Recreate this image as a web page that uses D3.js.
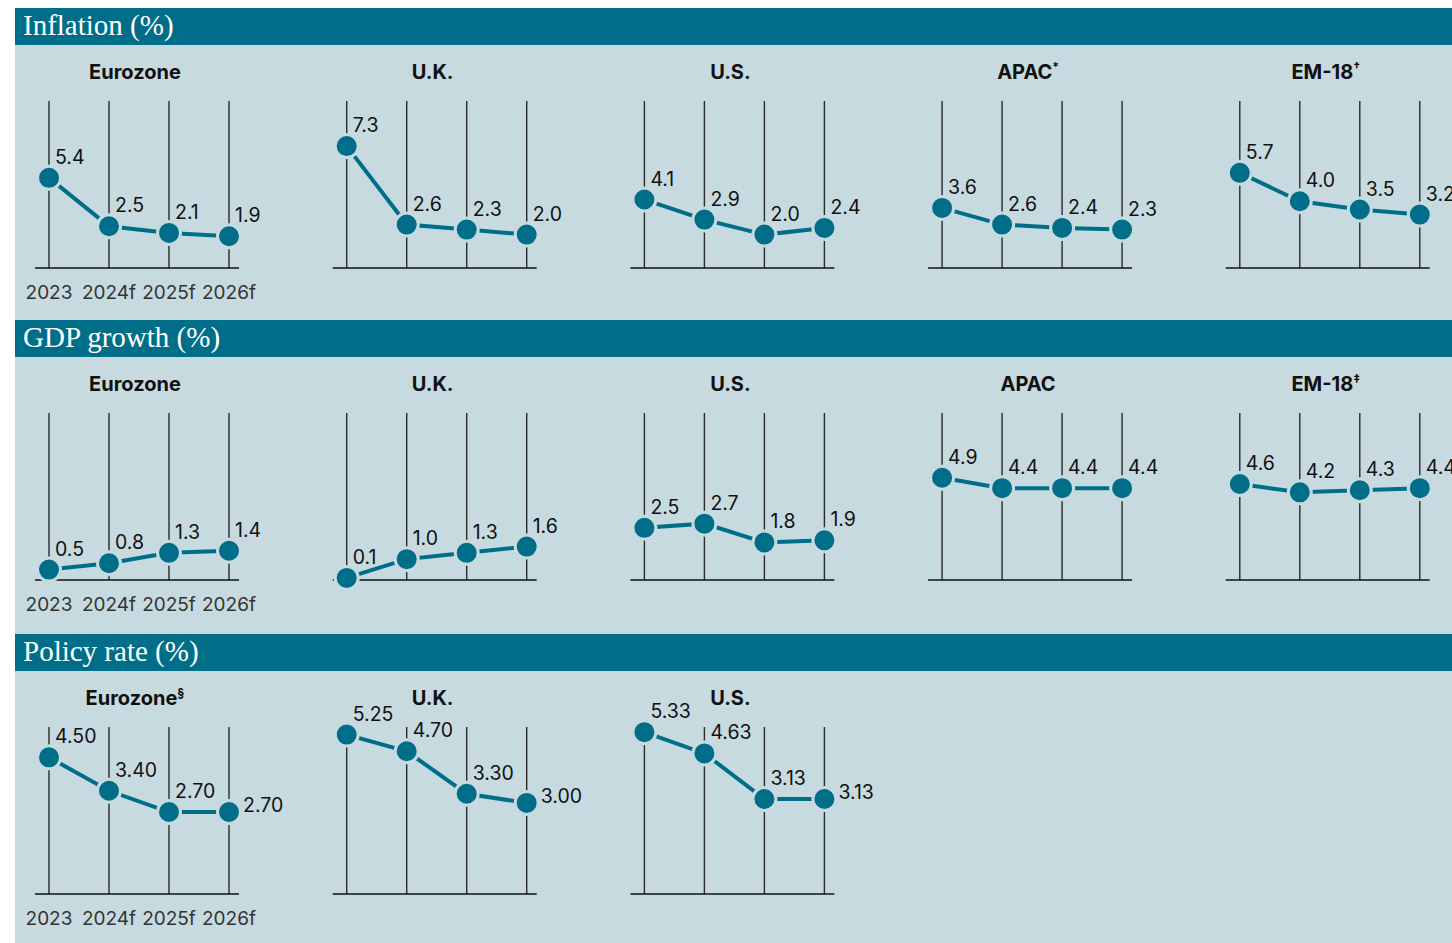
<!DOCTYPE html>
<html><head><meta charset="utf-8">
<script src="https://cdn.jsdelivr.net/npm/d3@7"></script>
<style>
html,body{margin:0;padding:0;background:#fff;}
svg{display:block;}
</style></head>
<body>
<svg id="chart" width="1452" height="943"></svg>
<script>
// ---- data ----
const years = ["2023", "2024f", "2025f", "2026f"];
const sectionTitles = ["Inflation (%)", "GDP growth (%)", "Policy rate (%)"];

const inflationRegions = ["Eurozone", "U.K.", "U.S.", "APAC", "EM-18"];
const inflationMarks = ["", "", "", "*", "†"];
const inflationValues = [
  [5.4, 2.5, 2.1, 1.9],
  [7.3, 2.6, 2.3, 2.0],
  [4.1, 2.9, 2.0, 2.4],
  [3.6, 2.6, 2.4, 2.3],
  [5.7, 4.0, 3.5, 3.2]
];

const gdpRegions = ["Eurozone", "U.K.", "U.S.", "APAC", "EM-18"];
const gdpMarks = ["", "", "", "", "‡"];
const gdpValues = [
  [0.5, 0.8, 1.3, 1.4],
  [0.1, 1.0, 1.3, 1.6],
  [2.5, 2.7, 1.8, 1.9],
  [4.9, 4.4, 4.4, 4.4],
  [4.6, 4.2, 4.3, 4.4]
];

const policyRegions = ["Eurozone", "U.K.", "U.S."];
const policyMarks = ["§", "", ""];
const policyValues = [
  [4.50, 3.40, 2.70, 2.70],
  [5.25, 4.70, 3.30, 3.00],
  [5.33, 4.63, 3.13, 3.13]
];

const yMax = [10, 8, 5.5];
const decimals = [1, 1, 2];

// ---- layout ----
const BG = "#c7dae0", TEAL = "#006e89";
const svg = d3.select("#chart");
svg.append("rect").attr("x", 15).attr("y", 8).attr("width", 1437).attr("height", 935).attr("fill", BG);

const sections = [
  {title: sectionTitles[0], regions: inflationRegions, marks: inflationMarks, values: inflationValues},
  {title: sectionTitles[1], regions: gdpRegions, marks: gdpMarks, values: gdpValues},
  {title: sectionTitles[2], regions: policyRegions, marks: policyMarks, values: policyValues}
];
const rowTop = [8, 320, 634];

sections.forEach((sec, si) => {
  const top = rowTop[si];
  const g = svg.append("g").attr("transform", `translate(0,${top})`);
  g.append("rect").attr("x", 15).attr("y", 0).attr("width", 1437).attr("height", 37).attr("fill", TEAL);
  g.append("text").attr("x", 23).attr("y", 27)
    .attr("font-family", "'Liberation Serif', 'DejaVu Serif', serif")
    .attr("font-size", 29).attr("fill", "#fff").text(sec.title);

  const y = d3.scaleLinear().domain([0, yMax[si]]).range([260, 93]);

  sec.regions.forEach((reg, pi) => {
    const x0 = 49 + pi * 297.7;
    const x = d3.scalePoint().domain(years).range([x0, x0 + 180]);
    const pg = g.append("g");
    const vals = sec.values[pi];
    const pts = years.map((yr, i) => ({yr, v: vals[i]}));

    // title
    const t = pg.append("text").attr("x", x0 + 86).attr("y", 71)
      .attr("text-anchor", "middle")
      .attr("font-family", "Inter, 'Liberation Sans', sans-serif")
      .attr("font-weight", 700).attr("font-size", 20).attr("fill", "#111");
    t.append("tspan").text(reg);
    if (sec.marks[pi]) t.append("tspan").attr("font-size", 12).attr("dy", -8).text(sec.marks[pi]);

    // verticals
    pg.selectAll("line.v").data(years).join("line")
      .attr("x1", d => x(d)).attr("x2", d => x(d))
      .attr("y1", y(yMax[si])).attr("y2", y(0))
      .attr("stroke", "#2a2a2a").attr("stroke-width", 1.4);
    // baseline
    pg.append("line").attr("x1", x0 - 14).attr("x2", x0 + 190)
      .attr("y1", y(0)).attr("y2", y(0)).attr("stroke", "#111").attr("stroke-width", 1.6);

    // line
    pg.append("path").datum(pts)
      .attr("d", d3.line().x(d => x(d.yr)).y(d => y(d.v)))
      .attr("fill", "none").attr("stroke", TEAL).attr("stroke-width", 4);
    // dots
    pg.selectAll("circle").data(pts).join("circle")
      .attr("cx", d => x(d.yr)).attr("cy", d => y(d.v)).attr("r", 11.5)
      .attr("fill", TEAL).attr("stroke", BG).attr("stroke-width", 3);
    // value labels
    const lastDx = si === 2 ? 14 : 6;
    const lastDy = si === 2 ? 0 : 14;
    pg.selectAll("text.val").data(pts).join("text").attr("class", "val")
      .attr("x", (d, i) => x(d.yr) + (i === 3 ? lastDx : 6))
      .attr("y", (d, i) => y(d.v) - (i === 3 ? lastDy : 14))
      .attr("font-family", "Inter, 'Liberation Sans', sans-serif")
      .attr("font-size", 19.5).attr("fill", "#111")
      .text(d => d.v.toFixed(decimals[si]));

    // year axis labels only on first panel
    if (pi === 0) {
      pg.selectAll("text.yr").data(years).join("text").attr("class", "yr")
        .attr("x", d => x(d)).attr("y", y(0) + 31)
        .attr("text-anchor", "middle")
        .attr("font-family", "Inter, 'Liberation Sans', sans-serif")
        .attr("font-size", 19).attr("fill", "#333").text(d => d);
    }
  });
});
</script>
</body></html>
